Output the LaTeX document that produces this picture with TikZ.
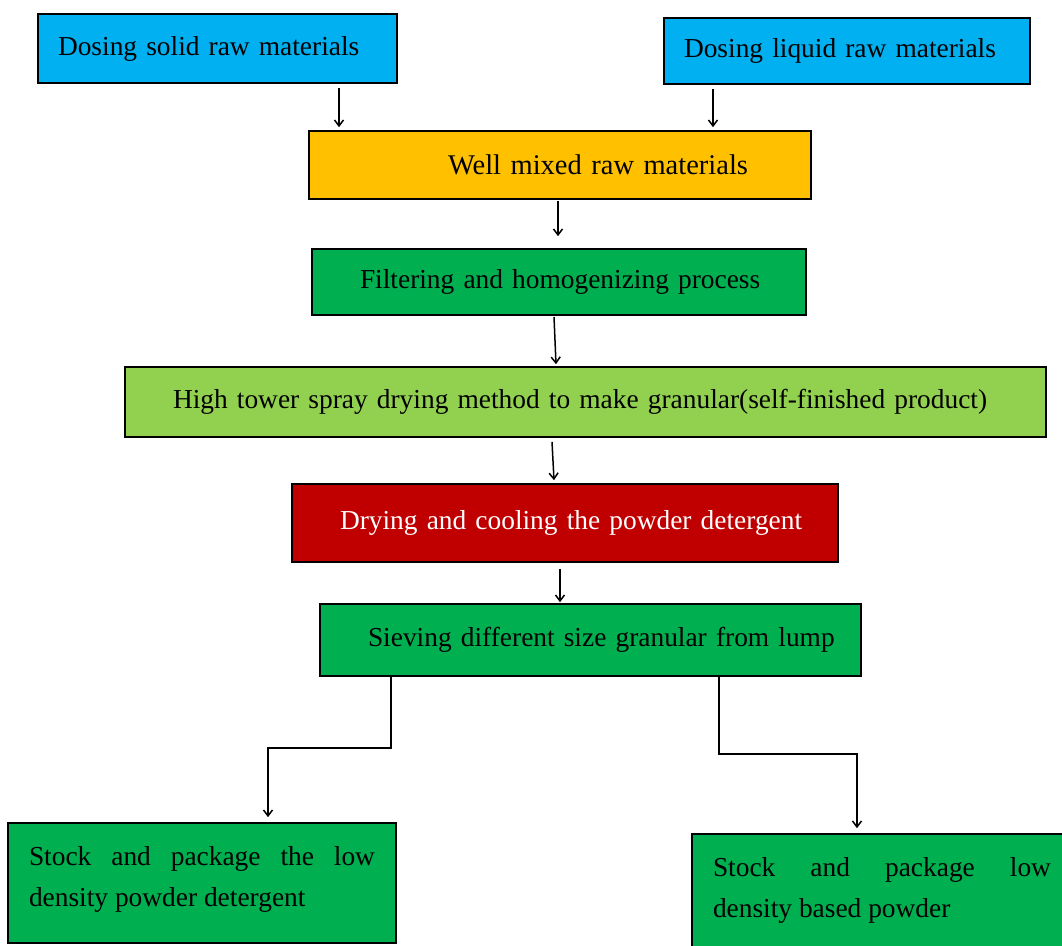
\documentclass[tikz,border=0pt]{standalone}
\usepackage{fontspec}
\setmainfont{Liberation Serif}
\usetikzlibrary{arrows.meta}
\definecolor{cyanbox}{HTML}{00B0F0}
\definecolor{orangebox}{HTML}{FFC000}
\definecolor{greenbox}{HTML}{00B050}
\definecolor{lightgreenbox}{HTML}{92D050}
\definecolor{redbox}{HTML}{C00000}
\begin{document}
\begin{tikzpicture}[x=1pt,y=-1pt,
  font=\fontsize{27.4}{41}\selectfont,
  box/.style={draw=black,line width=1.6pt,inner sep=0pt,anchor=center,align=left},
  arr/.style={line width=1.5pt,-{Straight Barb[length=6pt,width=9pt,line width=1.5pt]}},
  conn/.style={line width=1.5pt}]
\clip (0,0) rectangle (1062,945);
\fill[white] (0,0) rectangle (1062,945);
\node[box,fill=cyanbox,minimum width=359pt,minimum height=69pt,text width=359pt] (b1) at (217.5,48.5) {\hspace*{20pt}Dosing solid raw materials};
\node[box,fill=cyanbox,minimum width=366pt,minimum height=66pt,text width=366pt] (b2) at (847,51) {\hspace*{20pt}Dosing liquid raw materials};
\node[box,fill=orangebox,minimum width=502pt,minimum height=68pt,text width=502pt,font=\fontsize{28.5}{41}\selectfont] (b3) at (560,165) {\hspace*{139pt}Well mixed raw materials};
\node[box,fill=greenbox,minimum width=494pt,minimum height=66pt,text width=494pt] (b4) at (559,282) {\hspace*{48pt}Filtering and homogenizing process};
\node[box,fill=lightgreenbox,minimum width=921pt,minimum height=70pt,text width=921pt] (b5) at (585.5,402) {\hspace*{48pt}High tower spray drying method to make granular(self-finished product)};
\node[box,fill=redbox,text=white,minimum width=546pt,minimum height=78pt,text width=546pt] (b6) at (565,523) {\hspace*{48pt}Drying and cooling the powder detergent};
\node[box,fill=greenbox,minimum width=541pt,minimum height=72pt,text width=541pt] (b7) at (590.5,640) {\hspace*{48pt}Sieving different size granular from lump};
\node[box,fill=greenbox,inner xsep=21pt] (b8) at (202,883) {\parbox[c][120pt][t]{346pt}{\hyphenpenalty=10000\vspace*{23pt}\noindent Stock and package the low\linebreak density powder detergent}};
\node[box,fill=greenbox,inner xsep=21pt] (b9) at (882,897) {\parbox[c][126pt][t]{338pt}{\hyphenpenalty=10000\vspace*{23pt}\noindent Stock and package low\linebreak density based powder}};
\draw[arr] ([xshift=121.5pt,yshift=-4pt]b1.south) -- ([xshift=-221pt,yshift=3pt]b3.north);
\draw[arr] ([xshift=-134pt,yshift=-4pt]b2.south) -- ([xshift=153pt,yshift=3pt]b3.north);
\draw[arr] ([xshift=-2pt,yshift=-1pt]b3.south) -- ([xshift=-1pt,yshift=12pt]b4.north);
\draw[arr] ([xshift=-5pt,yshift=-1pt]b4.south) -- ([xshift=-29.5pt,yshift=2pt]b5.north);
\draw[arr] ([xshift=-33.5pt,yshift=-4pt]b5.south) -- ([xshift=-11pt,yshift=3pt]b6.north);
\draw[arr] ([xshift=-5pt,yshift=-6pt]b6.south) -- ([xshift=-30.5pt,yshift=1pt]b7.north);
\draw[arr] ([xshift=-199.5pt]b7.south) -- ++(0,71) -| ([xshift=66pt,yshift=5pt]b8.north);
\draw[arr] ([xshift=128.5pt]b7.south) -- ++(0,77) -| ([xshift=-25pt,yshift=5pt]b9.north);
\end{tikzpicture}
\end{document}
